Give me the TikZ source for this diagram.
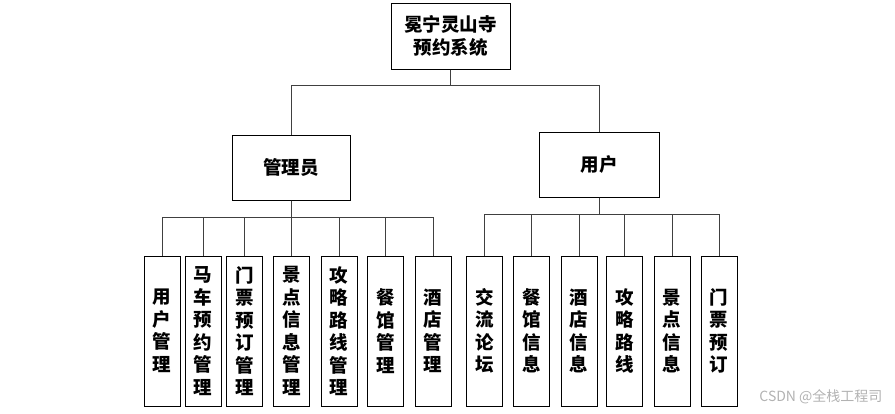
\documentclass[tikz,border=0pt]{standalone}
\usepackage{fontspec}
\newfontfamily\cjk{Noto Sans CJK SC}
\begin{document}
\begin{tikzpicture}[x=1pt,y=-1pt,
  box/.style={draw=black,line width=1pt,inner sep=0pt,font=\cjk\bfseries\fontsize{18.5}{22.5}\selectfont,align=center},
  leaf/.style={box,minimum width=36pt,minimum height=150pt},
  conn/.style={draw=black!75,line width=1pt}]
\useasboundingbox (0,0) rectangle (895,413);
\node[box,minimum width=119pt,minimum height=66pt] (top) at (450.5,36) {冕宁灵山寺\\预约系统};
\node[box,minimum width=118pt,minimum height=65pt] (adm) at (291,167.5) {管理员};
\node[box,minimum width=120pt,minimum height=65pt] (usr) at (599,164.5) {用户};
\node[leaf] (a1) at (162,331) {用\\户\\管\\理};
\node[leaf] (a2) at (203,331) {马\\车\\预\\约\\管\\理};
\node[leaf] (a3) at (244.5,331) {门\\票\\预\\订\\管\\理};
\node[leaf] (a4) at (291.5,331) {景\\点\\信\\息\\管\\理};
\node[leaf] (a5) at (339,331) {攻\\略\\路\\线\\管\\理};
\node[leaf] (a6) at (385.5,331) {餐\\馆\\管\\理};
\node[leaf] (a7) at (433,331) {酒\\店\\管\\理};
\node[leaf] (u1) at (484.5,331) {交\\流\\论\\坛};
\node[leaf] (u2) at (531.5,331) {餐\\馆\\信\\息};
\node[leaf] (u3) at (579,331) {酒\\店\\信\\息};
\node[leaf] (u4) at (624.5,331) {攻\\略\\路\\线};
\node[leaf] (u5) at (672,331) {景\\点\\信\\息};
\node[leaf] (u6) at (719,331) {门\\票\\预\\订};
\draw[conn] (top.south) -- ++(0,16) -| (adm.north);
\draw[conn] (top.south) -- ++(0,16) -| (usr.north);
\foreach \n in {a1,a2,a3,a4,a5,a6,a7}
  \draw[conn] (adm.south) -- ++(0,17) -| (\n.north);
\foreach \n in {u1,u2,u3,u4,u5,u6}
  \draw[conn] (usr.south) -- ++(0,17) -| (\n.north);
\node[text=black!30,font=\cjk\fontsize{14}{16}\selectfont,anchor=east] (wm) at (886,397) {CSDN @全栈工程司};
\end{tikzpicture}
\end{document}
